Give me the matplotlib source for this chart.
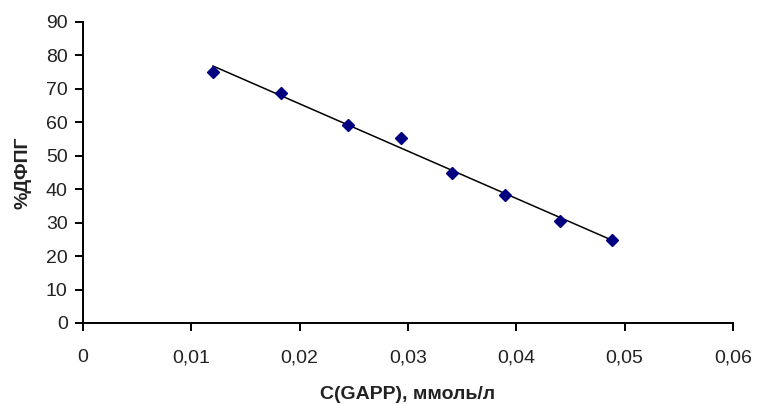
import numpy as np
import matplotlib.pyplot as plt
from matplotlib.ticker import FuncFormatter

# Данные
conc = [0.0120, 0.0183, 0.0245, 0.0294, 0.0341, 0.0390, 0.0440, 0.0488]
dfpg = [75.0, 68.8, 59.2, 55.3, 44.9, 38.3, 30.5, 24.8]

plt.rcParams['font.family'] = ['Liberation Sans', 'DejaVu Sans']

fig = plt.figure(figsize=(7.57, 4.05), dpi=100)
ax = fig.add_axes([0.1096, 0.2025, 0.8587, 0.7432])

# линия тренда
k, b = np.polyfit(conc, dfpg, 1)
xs = np.array([min(conc), max(conc)])
ax.plot(xs, k * xs + b, color='black', linewidth=1.1)
ax.plot(conc, dfpg, linestyle='', marker='D', markersize=6, color='#000080')

ax.set_xlim(0, 0.06)
ax.set_ylim(0, 90)
ax.set_xticks(np.arange(0, 0.061, 0.01))
ax.set_yticks(np.arange(0, 91, 10))
ax.xaxis.set_major_formatter(FuncFormatter(lambda v, p: '0' if v == 0 else ('%.2f' % v).replace('.', ',')))

for s in ['top', 'right']:
    ax.spines[s].set_visible(False)
for s in ['left', 'bottom']:
    ax.spines[s].set_linewidth(1.4)
ax.tick_params(axis='both', direction='out', length=6, width=1.4, labelsize=14, labelcolor='#222222')
ax.tick_params(axis='x', pad=13)
ax.tick_params(axis='y', pad=5)

ax.set_xlabel('C(GAPP), ммоль/л', fontsize=14, fontweight='bold', labelpad=14, color='#222222')
ax.set_ylabel('%ДФПГ', fontsize=14, fontweight='bold', labelpad=10, color='#222222')

fig.savefig('out.png', dpi=100)
